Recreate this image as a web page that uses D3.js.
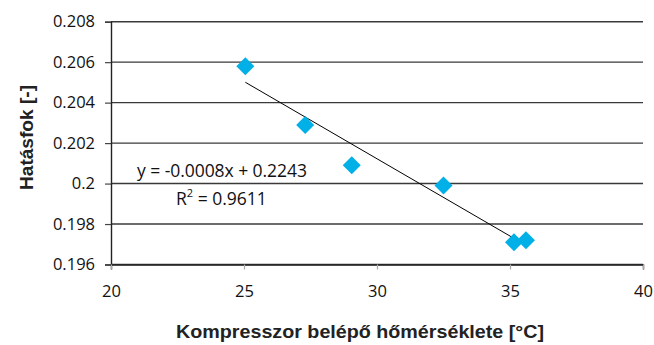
<!DOCTYPE html>
<html><head><meta charset="utf-8">
<script src="https://cdn.jsdelivr.net/npm/d3@7"></script>
<style>body{margin:0;background:#fff}</style>
</head><body>
<svg id="c" width="654" height="345"></svg>
<script>
const xValues = [25.05, 27.3, 29.05, 32.5, 35.15, 35.6];
const yValues = [0.2058, 0.2029, 0.2009, 0.1999, 0.1971, 0.1972];
const xTicks = [20, 25, 30, 35, 40];
const yTicks = [0.196, 0.198, 0.2, 0.202, 0.204, 0.206, 0.208];
const yTickLabels = ["0.196", "0.198", "0.2", "0.202", "0.204", "0.206", "0.208"];
const equationText = "y = -0.0008x + 0.2243";
const r2Text = "0.9611";
const xTitle = "Kompresszor belépő hőmérséklete [°C]";
const yTitle = "Hatásfok [-]";

const svg = d3.select("#c");
const x = d3.scaleLinear().domain([20, 40]).range([111, 643]);
const y = d3.scaleLinear().domain([0.196, 0.208]).range([264.5, 21.7]);
const tickFont = "'Open Sans', sans-serif";

// gridlines
svg.append("g").selectAll("line").data(yTicks).join("line")
  .attr("x1", x(20)).attr("x2", x(40))
  .attr("y1", d => y(d)).attr("y2", d => y(d))
  .attr("stroke", "#3a3a3a").attr("stroke-width", 1.4);

// y axis
const yAxis = svg.append("g").attr("transform", `translate(${x(20)},0)`)
  .call(d3.axisLeft(y).tickValues(yTicks).tickFormat((d, i) => yTickLabels[i]).tickSize(6).tickPadding(10));
yAxis.select(".domain").attr("stroke", "#222").attr("stroke-width", 1.4);
yAxis.selectAll(".tick line").attr("stroke", "#444").attr("stroke-width", 1.2);
yAxis.selectAll("text").attr("font-family", tickFont).attr("font-size", 16.5).attr("fill", "#111");

// x axis
const xAxis = svg.append("g").attr("transform", `translate(0,${y(0.196)})`)
  .call(d3.axisBottom(x).tickValues(xTicks).tickFormat(d3.format("d")).tickSize(5).tickPadding(16));
xAxis.select(".domain").attr("stroke", "#222").attr("stroke-width", 1.4);
xAxis.selectAll(".tick line").attr("stroke", "#aaa").attr("stroke-width", 1.2);
xAxis.selectAll("text").attr("font-family", tickFont).attr("font-size", 16.5).attr("fill", "#111");

// trendline via least squares
const mx = d3.mean(xValues), my = d3.mean(yValues);
const slope = d3.sum(xValues.map((v, i) => (v - mx) * (yValues[i] - my))) / d3.sum(xValues.map(v => (v - mx) ** 2));
const icpt = my - slope * mx;
const x0 = d3.min(xValues), x1 = d3.max(xValues);
svg.append("line")
  .attr("x1", x(x0)).attr("y1", y(icpt + slope * x0))
  .attr("x2", x(x1)).attr("y2", y(icpt + slope * x1))
  .attr("stroke", "#000").attr("stroke-width", 1);

// markers
svg.append("g").selectAll("path").data(xValues).join("path")
  .attr("transform", (d, i) => `translate(${x(d)},${y(yValues[i])})`)
  .attr("d", "M0,-9L9,0L0,9L-9,0Z")
  .attr("fill", "#00B0E6");

// equation labels
svg.append("text").attr("x", 137).attr("y", 177).attr("textLength", 170)
  .attr("font-family", tickFont).attr("font-size", 17.5).attr("fill", "#111")
  .text(equationText);
const r2 = svg.append("text").attr("x", 176).attr("y", 205)
  .attr("font-family", tickFont).attr("font-size", 17.5).attr("fill", "#111");
r2.append("tspan").text("R");
r2.append("tspan").attr("dy", -8).attr("font-size", 11).text("2");
r2.append("tspan").attr("dy", 8).text(" = " + r2Text);

// axis titles
svg.append("text").attr("x", 360).attr("y", 338).attr("text-anchor", "middle")
  .attr("textLength", 368).attr("lengthAdjust", "spacingAndGlyphs")
  .attr("font-family", "'Liberation Sans', Arial, sans-serif").attr("font-weight", "bold")
  .attr("font-size", 18).attr("fill", "#222").text(xTitle);
svg.append("text").attr("transform", "translate(33,137.5) rotate(-90)").attr("text-anchor", "middle")
  .attr("textLength", 105).attr("lengthAdjust", "spacingAndGlyphs")
  .attr("font-family", "'Liberation Sans', Arial, sans-serif").attr("font-weight", "bold")
  .attr("font-size", 18).attr("fill", "#222").text(yTitle);
</script>
</body></html>
